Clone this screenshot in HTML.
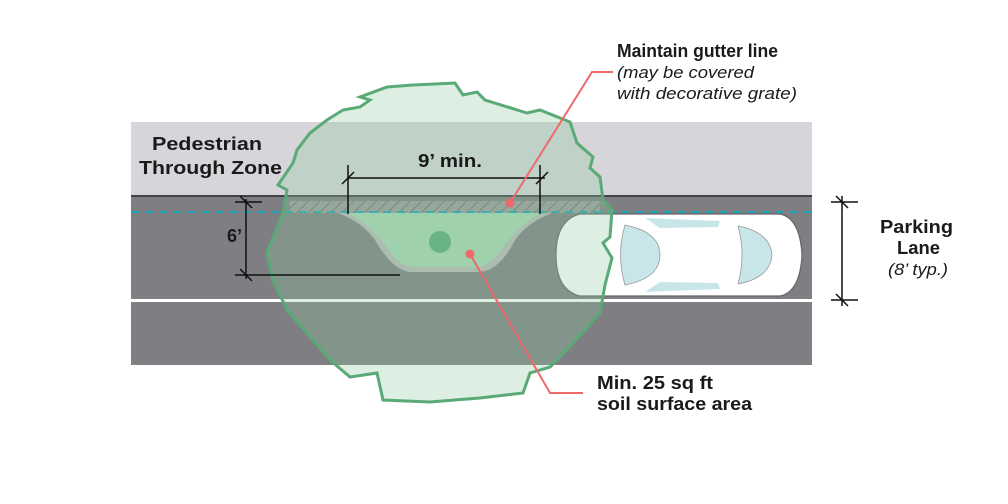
<!DOCTYPE html>
<html><head><meta charset="utf-8"><style>
html,body{margin:0;padding:0;background:#fff;width:1008px;height:504px;overflow:hidden}
svg{display:block}
text{font-family:"Liberation Sans",sans-serif;fill:#1a1a1a}
.b{font-weight:bold;font-size:18px}
.i{font-style:italic;font-size:16.5px}
</style></head><body>
<svg width="1008" height="504" viewBox="0 0 1008 504" xmlns="http://www.w3.org/2000/svg">
<defs>
<pattern id="h" width="8" height="8" patternUnits="userSpaceOnUse" patternTransform="rotate(45)">
<rect width="8" height="8" fill="#9a9a9a"/><line x1="0" y1="0" x2="0" y2="8" stroke="#555" stroke-width="1.2"/>
</pattern>
</defs>
<rect x="131" y="122" width="681" height="74" fill="#d6d5d9"/>
<rect x="131" y="195" width="681" height="2" fill="#444"/>
<rect x="131" y="197" width="681" height="102" fill="#7f7e82"/>
<rect x="131" y="299" width="681" height="3" fill="#fff"/>
<rect x="131" y="302" width="681" height="63" fill="#7f7e82"/>
<path d="M280 203 Q350 205 375 240 Q392 270 410 272 L480 272 Q500 270 515 240 Q540 205 610 203 Z" fill="#b8b8b8"/>
<path d="M290 201 L600 201 L600 213 L290 213 Z" fill="url(#h)"/>
<path d="M348 213 L540 213 Q520 225 505 245 Q490 266 478 267 L412 267 Q398 265 385 245 Q370 225 348 213 Z" fill="#a7d6b2"/>
<circle cx="440" cy="242" r="11" fill="#5aa877"/>
<g>
<path d="M580 214 L780 214 Q800 218 802 255 Q800 292 780 296 L580 296 Q556 290 556 255 Q556 220 580 214 Z" fill="#fff" stroke="#666" stroke-width="1.2"/>
<path d="M625 225 Q660 232 660 255 Q660 278 625 285 Q616 255 625 225 Z" fill="#c8e6ea" stroke="#999" stroke-width="0.8"/>
<path d="M738 226 Q770 232 772 255 Q770 278 738 284 Q746 255 738 226 Z" fill="#c8e6ea" stroke="#999" stroke-width="0.8"/>
<path d="M645 218 L720 221 L718 227 L660 228 Z" fill="#c8e6ea"/>
<path d="M645 292 L720 289 L718 283 L660 282 Z" fill="#c8e6ea"/>
</g>
<line x1="131" y1="212" x2="812" y2="212" stroke="#1fa3b5" stroke-width="2" stroke-dasharray="8,6"/>
<path d="M387 87 L413 85 L455 83 L463 95 L477 92 L485 100 L527 113 L540 110 L570 122 L577 143 L593 157 L590 168 L600 177 L603 200 L612 210 L610 237 L603 243 L612 258 L605 285 L600 313 L585 330 L560 357 L550 367 L530 373 L523 393 L480 398 L430 402 L383 400 L377 373 L350 377 L330 360 L307 333 L287 310 L273 280 L267 253 L283 213 L287 190 L278 185 L293 163 L297 150 L310 133 L327 120 L343 110 L360 107 L370 100 L360 97 Z" fill="#8fc9a0" fill-opacity="0.3" stroke="#5aaa78" stroke-width="3" stroke-linejoin="miter"/>
<g stroke="#111" stroke-width="1.5" fill="none">
<line x1="348" y1="178" x2="545" y2="178"/>
<line x1="348" y1="165" x2="348" y2="214"/><line x1="540" y1="165" x2="540" y2="214"/>
<line x1="342" y1="184" x2="354" y2="172"/><line x1="536" y1="184" x2="548" y2="172"/>
<line x1="246" y1="199" x2="246" y2="279"/>
<line x1="235" y1="202" x2="262" y2="202"/><line x1="235" y1="275" x2="400" y2="275"/>
<line x1="240" y1="196" x2="252" y2="208"/><line x1="240" y1="269" x2="252" y2="281"/>
<line x1="842" y1="196" x2="842" y2="306"/>
<line x1="831" y1="202" x2="858" y2="202"/><line x1="831" y1="300" x2="858" y2="300"/>
<line x1="836" y1="196" x2="848" y2="208"/><line x1="836" y1="294" x2="848" y2="306"/>
</g>
<g stroke="#ee6a6a" stroke-width="2" fill="none">
<polyline points="510,203 592,72 613,72"/>
<polyline points="470,254 550,393 583,393"/>
</g>
<circle cx="510" cy="203" r="4.5" fill="#ee6a6a"/>
<circle cx="470" cy="254" r="4.5" fill="#ee6a6a"/>
<text class="b" x="152" y="150" textLength="110" lengthAdjust="spacingAndGlyphs">Pedestrian</text>
<text class="b" x="139" y="174" textLength="143" lengthAdjust="spacingAndGlyphs">Through Zone</text>
<text class="b" x="418" y="167" textLength="64" lengthAdjust="spacingAndGlyphs">9’ min.</text>
<text class="b" x="227" y="242">6’</text>
<text class="b" x="617" y="57" textLength="161" lengthAdjust="spacingAndGlyphs">Maintain gutter line</text>
<text class="i" x="617" y="78" textLength="137" lengthAdjust="spacingAndGlyphs">(may be covered</text>
<text class="i" x="617" y="99" textLength="180" lengthAdjust="spacingAndGlyphs">with decorative grate)</text>
<text class="b" x="880" y="233" textLength="73" lengthAdjust="spacingAndGlyphs">Parking</text>
<text class="b" x="897" y="254" textLength="43" lengthAdjust="spacingAndGlyphs">Lane</text>
<text class="i" x="888" y="275" textLength="60" lengthAdjust="spacingAndGlyphs">(8’ typ.)</text>
<text class="b" x="597" y="389" textLength="116" lengthAdjust="spacingAndGlyphs">Min. 25 sq ft</text>
<text class="b" x="597" y="410" textLength="155" lengthAdjust="spacingAndGlyphs">soil surface area</text>
</svg>
</body></html>
